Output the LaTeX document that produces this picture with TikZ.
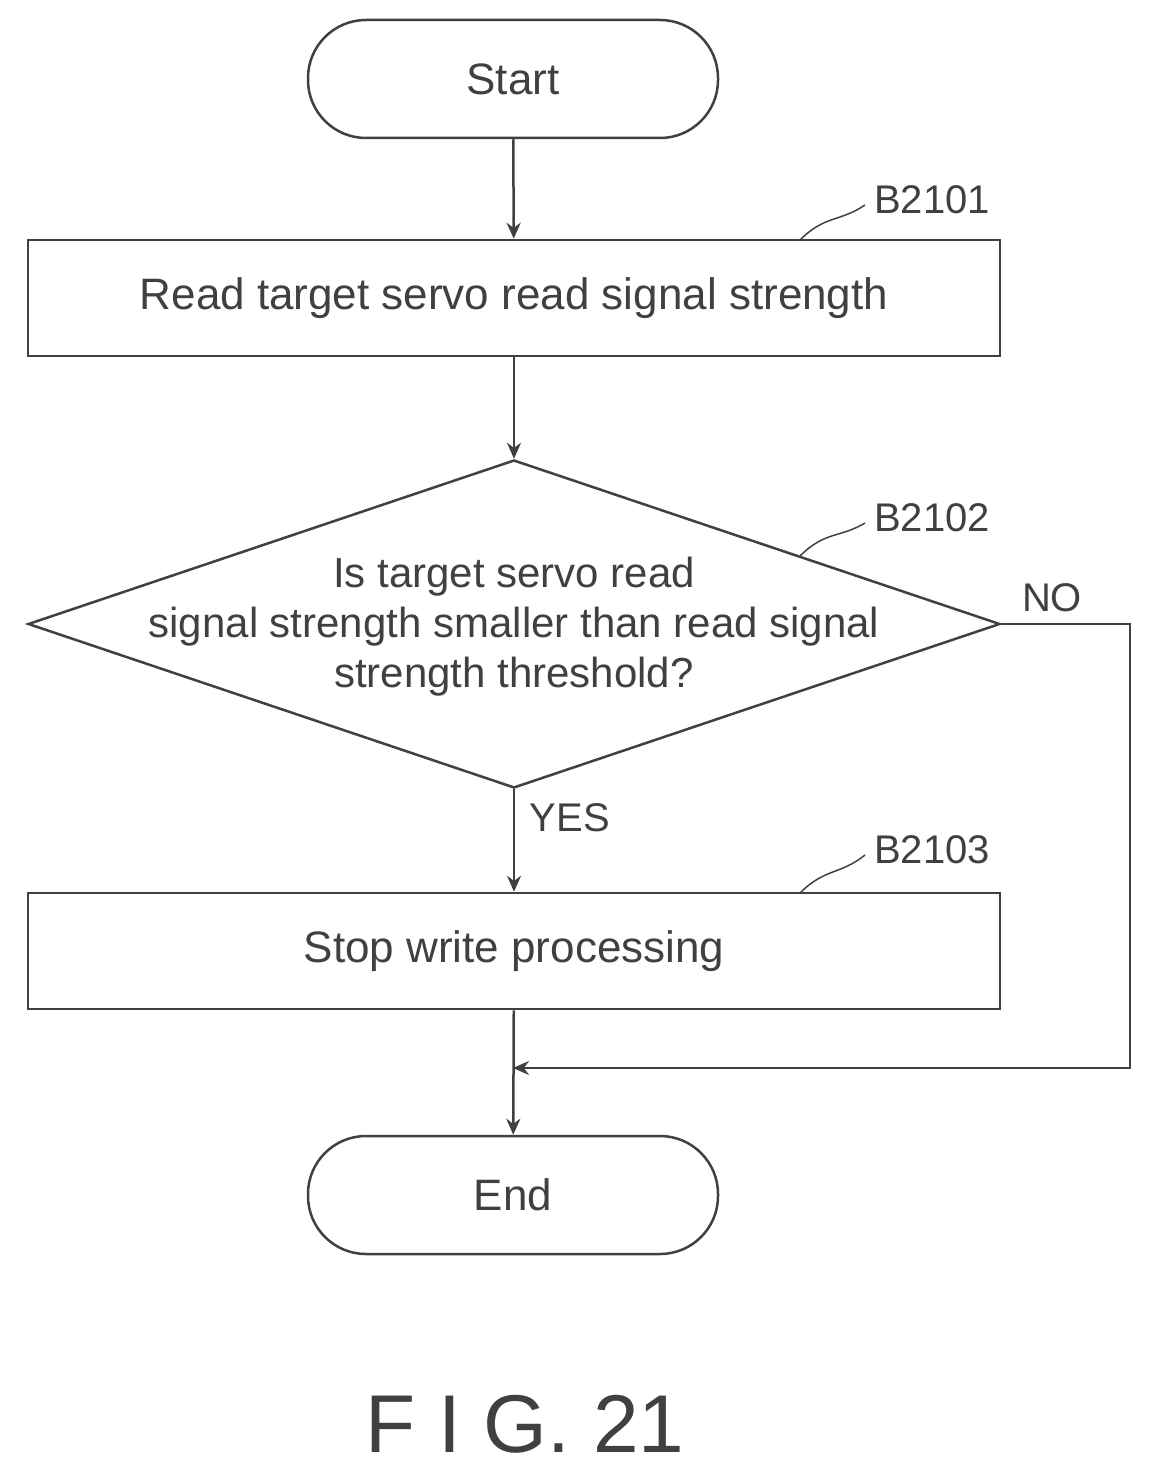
\documentclass[tikz,border=0pt]{standalone}
\usepackage{fontspec}
\setmainfont{Liberation Sans}
\usetikzlibrary{shapes.geometric,arrows.meta}
\begin{document}
\begin{tikzpicture}[x=1pt,y=-1pt,line width=2.5pt,color=black!75,
  every node/.style={font=\fontsize{44}{52}\selectfont,text=black!75},
  term/.style={draw,rounded corners=58pt,minimum width=410pt,minimum height=118pt},
  box/.style={draw,minimum width=972pt,minimum height=116pt},
  arr/.style={-{Stealth[length=16pt,width=14pt]}},
  lbl/.style={font=\fontsize{40}{48}\selectfont}]
\useasboundingbox (0,0) rectangle (1153,1482);
\node[term] (start) at (513,79) {Start};
\node[box] (b1) at (514,298) {Read target servo read signal strength};
\node[draw,diamond,aspect=2.96,inner sep=0pt,minimum width=972pt,minimum height=328pt] (d) at (514,624) {};
\node[align=center,font=\fontsize{42}{50}\selectfont] (dt) at (514,627) {Is target servo read\\signal strength smaller than read signal\\strength threshold?};
\node[box] (b2) at (514,951) {Stop write processing};
\node[term] (end) at (513,1195) {End};
\node[lbl] (l1) at (932,200) {B2101};
\node[lbl] (l2) at (932,518) {B2102};
\node[lbl] (l3) at (932,850) {B2103};
\node[lbl] (no) at (1052,598) {NO};
\node[lbl] (yes) at (570,818) {YES};
\node[font=\fontsize{82}{96}\selectfont] (fig) at (525,1424) {F I G. 21};
\draw[line width=1.5pt] (800,240) .. controls (825,215) and (840,222) .. (865,205);
\draw[line width=1.5pt] (800,556) .. controls (825,531) and (840,538) .. (865,523);
\draw[line width=1.5pt] (800,893) .. controls (825,868) and (840,875) .. (865,855);
\draw[arr] (start) -- (b1);
\draw[arr] (b1) -- (d.north);
\draw[arr] (d.south) -- (b2);
\draw[arr] (b2) -- (end);
\coordinate (j) at (513,1068);
\draw[arr] (d.east) -- (1130,624) |- (j);
\end{tikzpicture}
\end{document}
